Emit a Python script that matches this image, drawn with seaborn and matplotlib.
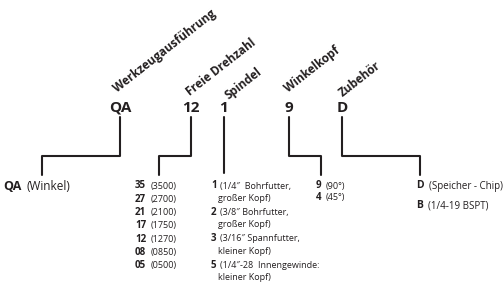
"""
Type code key for an angle-head tool (QA 12 1 9 D), drawn as a tree diagram.
"""

import matplotlib.pyplot as plt
import seaborn as sns

# Heading codes and their captions
codes = ['QA', '12', '1', '9', 'D']
headings = ['Werkzeugausführung', 'Freie Drehzahl', 'Spindel', 'Winkelkopf', 'Zubehör']

# Option lists below each code
tool_codes = ['QA']
tool_text = ['(Winkel)']

speed_codes = ['35', '27', '21', '17', '12', '08', '05']
speed_text = ['(3500)', '(2700)', '(2100)', '(1750)', '(1270)', '(0850)', '(0500)']

spindle_codes = ['1', '2', '3', '5']
spindle_text = ['(1/4\u2033  Bohrfutter,', '(3/8\u2033 Bohrfutter,',
                '(3/16\u2033 Spannfutter,', '(1/4\u2033-28  Innengewinde:']
spindle_text2 = ['großer Kopf)', 'großer Kopf)', 'kleiner Kopf)', 'kleiner Kopf)']

head_codes = ['9', '4']
head_text = ['(90°)', '(45°)']

extra_codes = ['D', 'B']
extra_text = ['(Speicher - Chip)', '(1/4-19 BSPT)']

# layout (pixel coordinates, y down)
stem_x = [120, 191, 224, 289, 342]
drop_x = [42, 159, 224, 321, 420]
list_x = [3, 135, 211, 316, 416]
caption_xy = [(117, 93), (190, 96), (229, 100), (288, 93), (343, 97)]

ink = '#231f20'
sns.set_style('white')
plt.rcParams['font.family'] = ['Open Sans', 'DejaVu Sans']

fig = plt.figure(figsize=(5.04, 2.92), dpi=100)
ax = fig.add_axes([0, 0, 1, 1])
ax.set_xlim(0, 504)
ax.set_ylim(292, 0)
ax.axis('off')

# codes, captions and connectors
for i, code in enumerate(codes):
    ax.text(stem_x[i], 108, code, ha='center', va='center',
            fontsize=11, fontweight='bold', color=ink)
    cx, cy = caption_xy[i]
    ax.text(cx, cy, headings[i], rotation=38, rotation_mode='anchor',
            ha='left', va='baseline', fontsize=8.5, fontweight='bold', color=ink)
    if stem_x[i] == drop_x[i]:
        xs, ys = [stem_x[i], stem_x[i]], [117, 173]
    else:
        xs = [stem_x[i], stem_x[i], drop_x[i], drop_x[i]]
        ys = [117, 156, 156, 175]
    sns.lineplot(x=xs, y=ys, sort=False, estimator=None, color=ink, lw=1.5, ax=ax)


def option(x, y, code, text, size=6.5, gap=3.0):
    t = ax.text(x, y, code, ha='left', va='center', fontsize=size + 0.5,
                fontweight='bold', color=ink)
    ax.annotate(text, xy=(1, 0.5), xycoords=t, xytext=(gap, 0),
                textcoords='offset points', ha='left', va='center',
                fontsize=size, color=ink)


option(list_x[0], 186, tool_codes[0], tool_text[0], size=8.5, gap=4)

for k, (c, t) in enumerate(zip(speed_codes, speed_text)):
    option(list_x[1], 186 + k * 13.3, c, t)

for k, (c, t) in enumerate(zip(spindle_codes, spindle_text)):
    y = 186 + k * 26.4
    option(list_x[2], y, c, t, gap=2.5)
    ax.text(list_x[2] + 7, y + 12.5, spindle_text2[k], ha='left', va='center',
            fontsize=6.5, color=ink)

for k, (c, t) in enumerate(zip(head_codes, head_text)):
    option(list_x[3], 186 + k * 11.5, c, t)

for k, (c, t) in enumerate(zip(extra_codes, extra_text)):
    option(list_x[4], 186 + k * 20, c, t, size=7, gap=4)

fig.savefig('out.png', dpi=100)
